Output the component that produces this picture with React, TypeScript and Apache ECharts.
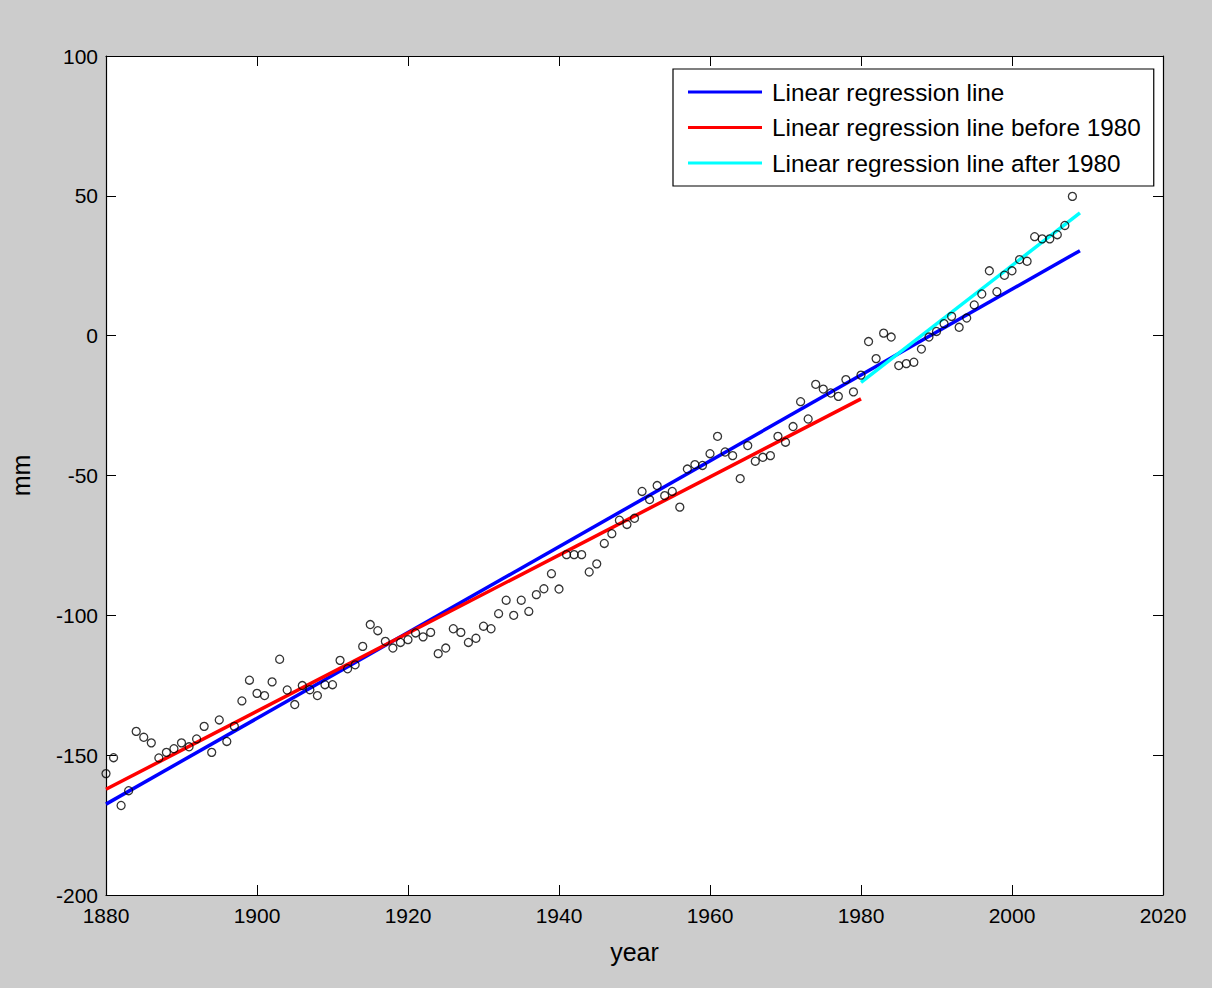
import React, { useEffect, useRef } from "react";
import * as echarts from "echarts";

const years: number[] = [];
for (let y = 1880; y <= 2008; y++) years.push(y);

const seaLevel: number[] = [
  -156.6, -150.9, -168.0, -162.7, -141.5, -143.6, -145.6, -151.0, -149.0, -147.7,
  -145.6, -147.0, -144.2, -139.7, -149.0, -137.4, -145.1, -139.7, -130.6, -123.2,
  -127.9, -128.7, -123.8, -115.7, -126.7, -131.9, -125.1, -126.6, -128.7, -124.8,
  -124.8, -116.1, -119.1, -117.7, -111.1, -103.3, -105.5, -109.3, -111.7, -109.7,
  -108.7, -106.3, -107.7, -106.1, -113.7, -111.7, -104.8, -106.1, -109.7, -108.2,
  -103.9, -104.8, -99.4, -94.6, -100.0, -94.6, -98.6, -92.6, -90.5, -85.1,
  -90.6, -78.3, -78.3, -78.3, -84.5, -81.6, -74.3, -70.8, -66.0, -67.5,
  -65.3, -55.7, -58.6, -53.6, -57.2, -55.7, -61.3, -47.7, -46.1, -46.4,
  -42.2, -36.0, -41.6, -42.9, -51.1, -39.3, -44.9, -43.5, -42.9, -36.0,
  -38.1, -32.5, -23.6, -29.8, -17.4, -19.1, -20.5, -21.7, -15.7, -20.1,
  -14.1, -2.1, -8.2, 0.9, -0.5, -10.7, -10.0, -9.5, -4.8, -0.5,
  1.5, 4.3, 6.9, 3.0, 6.3, 11.0, 14.9, 23.2, 15.7, 21.6,
  23.2, 27.2, 26.6, 35.4, 34.6, 34.6, 36.1, 39.4, 49.8,
];

// regression line endpoints [year, mm]
const fitAll: [number, number][] = [[1880, -167.5], [2009, 30.4]];
const fitBefore: [number, number][] = [[1880, -162.2], [1980, -22.6]];
const fitAfter: [number, number][] = [[1980, -16.7], [2009, 43.9]];

const seriesNames = [
  "Linear regression line",
  "Linear regression line before 1980",
  "Linear regression line after 1980",
];
const seriesColors = ["#0000ff", "#ff0000", "#00ffff"];

const xTicks = { min: 1880, max: 2020, interval: 20 };
const yTicks = { min: -200, max: 100, interval: 50 };

const FONT = "'Liberation Sans', Arial, sans-serif";

export default function App() {
  const ref = useRef<HTMLDivElement>(null);
  useEffect(() => {
    if (!ref.current) return;
    const chart = echarts.init(ref.current, undefined, { renderer: "svg" });
    const tickStyle = { inside: true, length: 10, lineStyle: { color: "#000", width: 1 } };
    const axisLine = { show: true, onZero: false, lineStyle: { color: "#000", width: 1.2 } };
    chart.setOption({
      animation: false,
      backgroundColor: "#cccccc",
      textStyle: { fontFamily: FONT },
      grid: { left: 105, top: 56, right: 49, bottom: 93, show: true, backgroundColor: "#ffffff", borderWidth: 0 },
      legend: {
        left: 673,
        top: 69,
        orient: "vertical",
        backgroundColor: "#ffffff",
        borderColor: "#000",
        borderWidth: 1.2,
        borderRadius: 0,
        padding: [10, 13, 10, 15],
        itemGap: 9.5,
        itemWidth: 74,
        itemHeight: 3,
        icon: "rect",
        data: seriesNames,
        textStyle: { fontFamily: FONT, fontSize: 24.3, color: "#000", lineHeight: 26, padding: [0, 0, 0, 5] },
      },
      xAxis: [
        {
          type: "value",
          ...xTicks,
          position: "bottom",
          name: "year",
          nameLocation: "middle",
          nameGap: 44,
          nameTextStyle: { fontFamily: FONT, fontSize: 25, color: "#000" },
          axisLine,
          axisTick: tickStyle,
          splitLine: { show: false },
          axisLabel: { color: "#000", fontFamily: FONT, fontSize: 21, margin: 10, formatter: (v: number) => String(v) },
        },
        {
          type: "value",
          ...xTicks,
          position: "top",
          axisLine,
          axisTick: tickStyle,
          splitLine: { show: false },
          axisLabel: { show: false },
        },
      ],
      yAxis: [
        {
          type: "value",
          ...yTicks,
          position: "left",
          name: "mm",
          nameLocation: "middle",
          nameGap: 73,
          nameTextStyle: { fontFamily: FONT, fontSize: 25, color: "#000" },
          axisLine,
          axisTick: tickStyle,
          splitLine: { show: false },
          axisLabel: { color: "#000", fontFamily: FONT, fontSize: 21, margin: 8 },
        },
        {
          type: "value",
          ...yTicks,
          position: "right",
          axisLine,
          axisTick: tickStyle,
          splitLine: { show: false },
          axisLabel: { show: false },
        },
      ],
      series: [
        {
          name: "data",
          type: "scatter",
          xAxisIndex: 0,
          yAxisIndex: 0,
          symbol: "circle",
          symbolSize: 8,
          itemStyle: { color: "transparent", borderColor: "#000", borderWidth: 1.3 },
          data: years.map((y, i) => [y, seaLevel[i]]),
          z: 3,
        },
        ...[fitAll, fitBefore, fitAfter].map((d, i) => ({
          name: seriesNames[i],
          type: "line",
          xAxisIndex: 0,
          yAxisIndex: 0,
          showSymbol: false,
          symbol: "none",
          data: d,
          color: seriesColors[i],
          lineStyle: { color: seriesColors[i], width: 3.5 },
          z: 2,
        })),
      ],
    });
    return () => chart.dispose();
  }, []);
  return (
    <div
      ref={ref}
      style={{ position: "fixed", left: 0, top: 0, width: 1212, height: 988 }}
    />
  );
}
